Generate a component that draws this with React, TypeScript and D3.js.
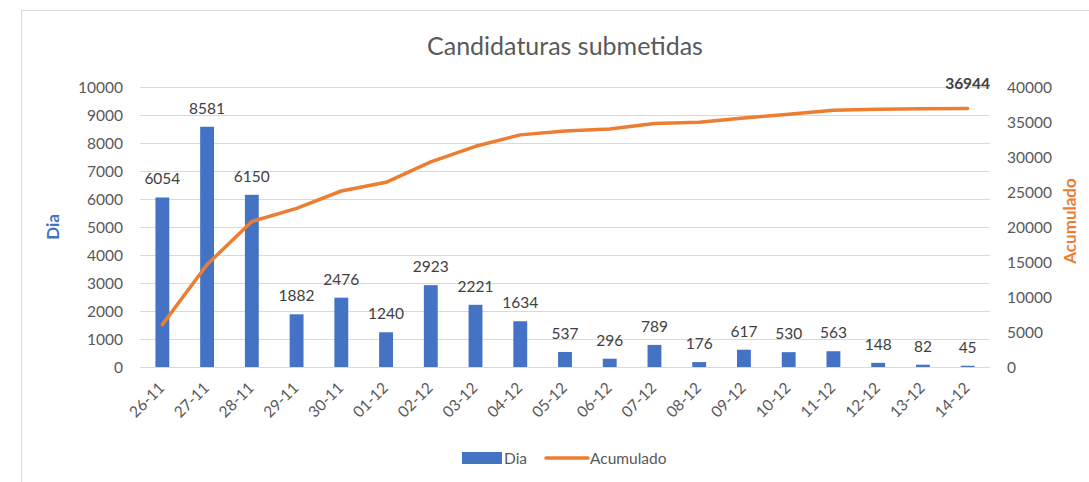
import React from "react";
import * as d3 from "d3";

const categories = ["26-11","27-11","28-11","29-11","30-11","01-12","02-12","03-12","04-12","05-12","06-12","07-12","08-12","09-12","10-12","11-12","12-12","13-12","14-12"];
const dia = [6054,8581,6150,1882,2476,1240,2923,2221,1634,537,296,789,176,617,530,563,148,82,45];
const acumulado = [6054,14635,20785,22667,25143,26383,29306,31527,33161,33698,33994,34783,34959,35576,36106,36669,36817,36899,36944];
const leftTicks = [0,1000,2000,3000,4000,5000,6000,7000,8000,9000,10000];
const rightTicks = [0,5000,10000,15000,20000,25000,30000,35000,40000];

const W = 1089, H = 482;
const plot = { left: 140, right: 990, top: 87, bottom: 367 };
const FONT = "Lato, 'Open Sans', sans-serif";
const TXT = "#595959";
const BLUE = "#4472C4";
const ORANGE = "#ED7D31";
const GRID = "#d9d9d9";
const FS = 15.5;

export default function App() {
  const x = d3.scaleBand<string>().domain(categories).range([plot.left, plot.right]).paddingInner(0.69).paddingOuter(0.345);
  const xc = d3.scaleBand<string>().domain(categories).range([plot.left, plot.right]);
  const yL = d3.scaleLinear().domain([0, 10000]).range([plot.bottom, plot.top]);
  const yR = d3.scaleLinear().domain([0, 40000]).range([plot.bottom, plot.top]);
  const center = (c: string) => (xc(c) as number) + xc.bandwidth() / 2;
  const line = d3.line<number>().x((_, i) => center(categories[i])).y((d) => yR(d));
  const last = acumulado.length - 1;

  return (
    <svg width={W} height={H} style={{ position: "absolute", left: 0, top: 0, background: "#fff" }} fontFamily={FONT}>
      <rect x={21.5} y={10.5} width={W} height={H} fill="#fff" stroke={GRID} strokeWidth={1} />
      <text x={565} y={55} textAnchor="middle" fontSize={25} fill={TXT}>Candidaturas submetidas</text>
      {leftTicks.map((t) => (
        <g key={"l" + t}>
          <line x1={plot.left} x2={plot.right} y1={Math.round(yL(t)) + 0.5} y2={Math.round(yL(t)) + 0.5} stroke={GRID} strokeWidth={1} />
          <text x={123} y={yL(t) + 5.5} textAnchor="end" fontSize={FS} fill={TXT}>{t}</text>
        </g>
      ))}
      {rightTicks.map((t) => (
        <text key={"r" + t} x={1007} y={yR(t) + 5.5} textAnchor="start" fontSize={FS} fill={TXT}>{t}</text>
      ))}
      {categories.map((c, i) => (
        <g key={c}>
          <rect x={x(c)} y={yL(dia[i])} width={x.bandwidth()} height={plot.bottom - yL(dia[i])} fill={BLUE} />
          <text x={center(c)} y={yL(dia[i]) - 13} textAnchor="middle" fontSize={FS} fill="#404040">{dia[i]}</text>
          <text transform={`translate(${center(c) + 3},${plot.bottom + 22}) rotate(-45)`} textAnchor="end" fontSize={FS} fill={TXT}>{c}</text>
        </g>
      ))}
      <path d={line(acumulado) || ""} fill="none" stroke={ORANGE} strokeWidth={3.5} strokeLinecap="round" strokeLinejoin="round" />
      <text x={center(categories[last])} y={yR(acumulado[last]) - 19} textAnchor="middle" fontSize={FS} fontWeight="bold" fill="#404040">{acumulado[last]}</text>
      <text transform={`translate(59,227) rotate(-90)`} textAnchor="middle" fontSize={17} fontWeight="bold" fill={BLUE}>Dia</text>
      <text transform={`translate(1076,221) rotate(-90)`} textAnchor="middle" fontSize={17} fontWeight="bold" fill={ORANGE}>Acumulado</text>
      <rect x={462} y={452} width={40} height={12} fill={BLUE} />
      <text x={504} y={464} fontSize={FS} fill={TXT}>Dia</text>
      <line x1={546} x2={588} y1={458} y2={458} stroke={ORANGE} strokeWidth={3.5} strokeLinecap="round" />
      <text x={590} y={464} fontSize={FS} fill={TXT}>Acumulado</text>
    </svg>
  );
}
